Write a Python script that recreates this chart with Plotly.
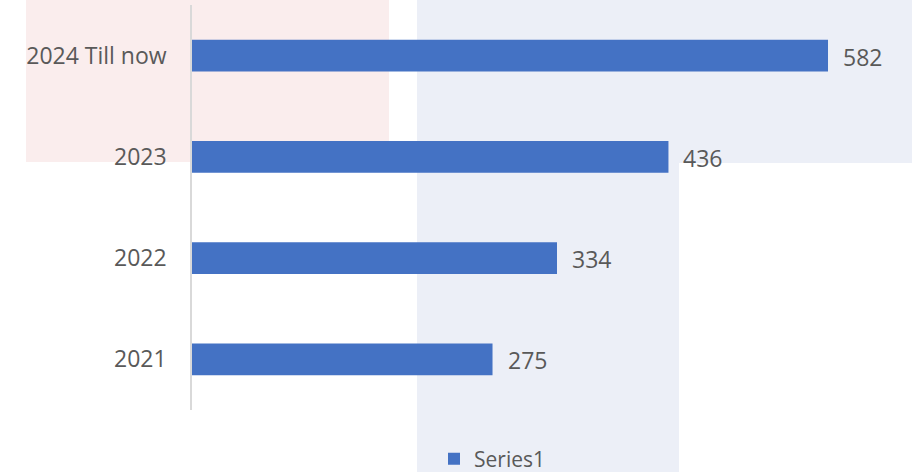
import plotly.graph_objects as go

categories = ["2021", "2022", "2023", "2024 Till now"]
values = [275, 334, 436, 582]
series_name = "Series1"

W, H = 912, 472
ML, MR, MT, MB = 192, 12, 5, 62
PW, PH = W - ML - MR, H - MT - MB
FONT = "Open Sans, Lato, sans-serif"
TXT = "#595959"

def px(x):
    return (x - ML) / PW

def py(y):
    return (H - MB - y) / PH

pos = list(range(len(categories)))

fig = go.Figure()
fig.add_trace(go.Bar(
    y=pos, x=values, orientation="h", name=series_name,
    marker=dict(color="#4472C4", line=dict(width=0)),
    width=0.315,
    showlegend=True,
))

for p, v in zip(pos, values):
    fig.add_annotation(x=v, y=p, xref="x", yref="y", text=str(v), showarrow=False,
                       xanchor="left", xshift=13, yshift=-1,
                       font=dict(family=FONT, size=23, color=TXT))

shapes = [
    dict(x0=px(26), x1=px(389), y0=py(162), y1=py(0), color="#FAEDED"),
    dict(x0=px(417), x1=px(912), y0=py(163), y1=py(0), color="#ECEFF7"),
    dict(x0=px(417), x1=px(679), y0=py(472), y1=py(0), color="#ECEFF7"),
]
for s in shapes:
    fig.add_shape(type="rect", xref="paper", yref="paper",
                  x0=s["x0"], x1=s["x1"], y0=s["y0"], y1=s["y1"],
                  fillcolor=s["color"], line=dict(width=0), layer="below")

fig.update_layout(
    width=W, height=H, autosize=False,
    margin=dict(l=ML, r=MR, t=MT, b=MB, autoexpand=False),
    paper_bgcolor="white", plot_bgcolor="rgba(0,0,0,0)",
    font=dict(family=FONT, size=22, color=TXT),
    xaxis=dict(range=[0, PW / 1.0928], showgrid=False, zeroline=False,
               showticklabels=False, showline=False, fixedrange=True),
    yaxis=dict(range=[-0.5, len(categories) - 0.5], tickmode="array",
               tickvals=pos, ticktext=categories,
               showgrid=False, zeroline=False, showline=True,
               linecolor="#D9D9D9", linewidth=1.5,
               ticklabelstandoff=19, fixedrange=True,
               tickfont=dict(family=FONT, size=23, color=TXT)),
    legend=dict(orientation="h", x=px(434), xanchor="left",
                y=py(459), yanchor="middle",
                font=dict(family=FONT, size=21, color=TXT),
                bgcolor="rgba(0,0,0,0)", itemwidth=30),
    showlegend=True,
)

fig.write_html("out.html", config={"displayModeBar": False, "responsive": False},
               post_script="document.documentElement.style.overflow='hidden';"
                           "document.body.style.margin='0';"
                           "document.body.style.overflow='hidden';")
